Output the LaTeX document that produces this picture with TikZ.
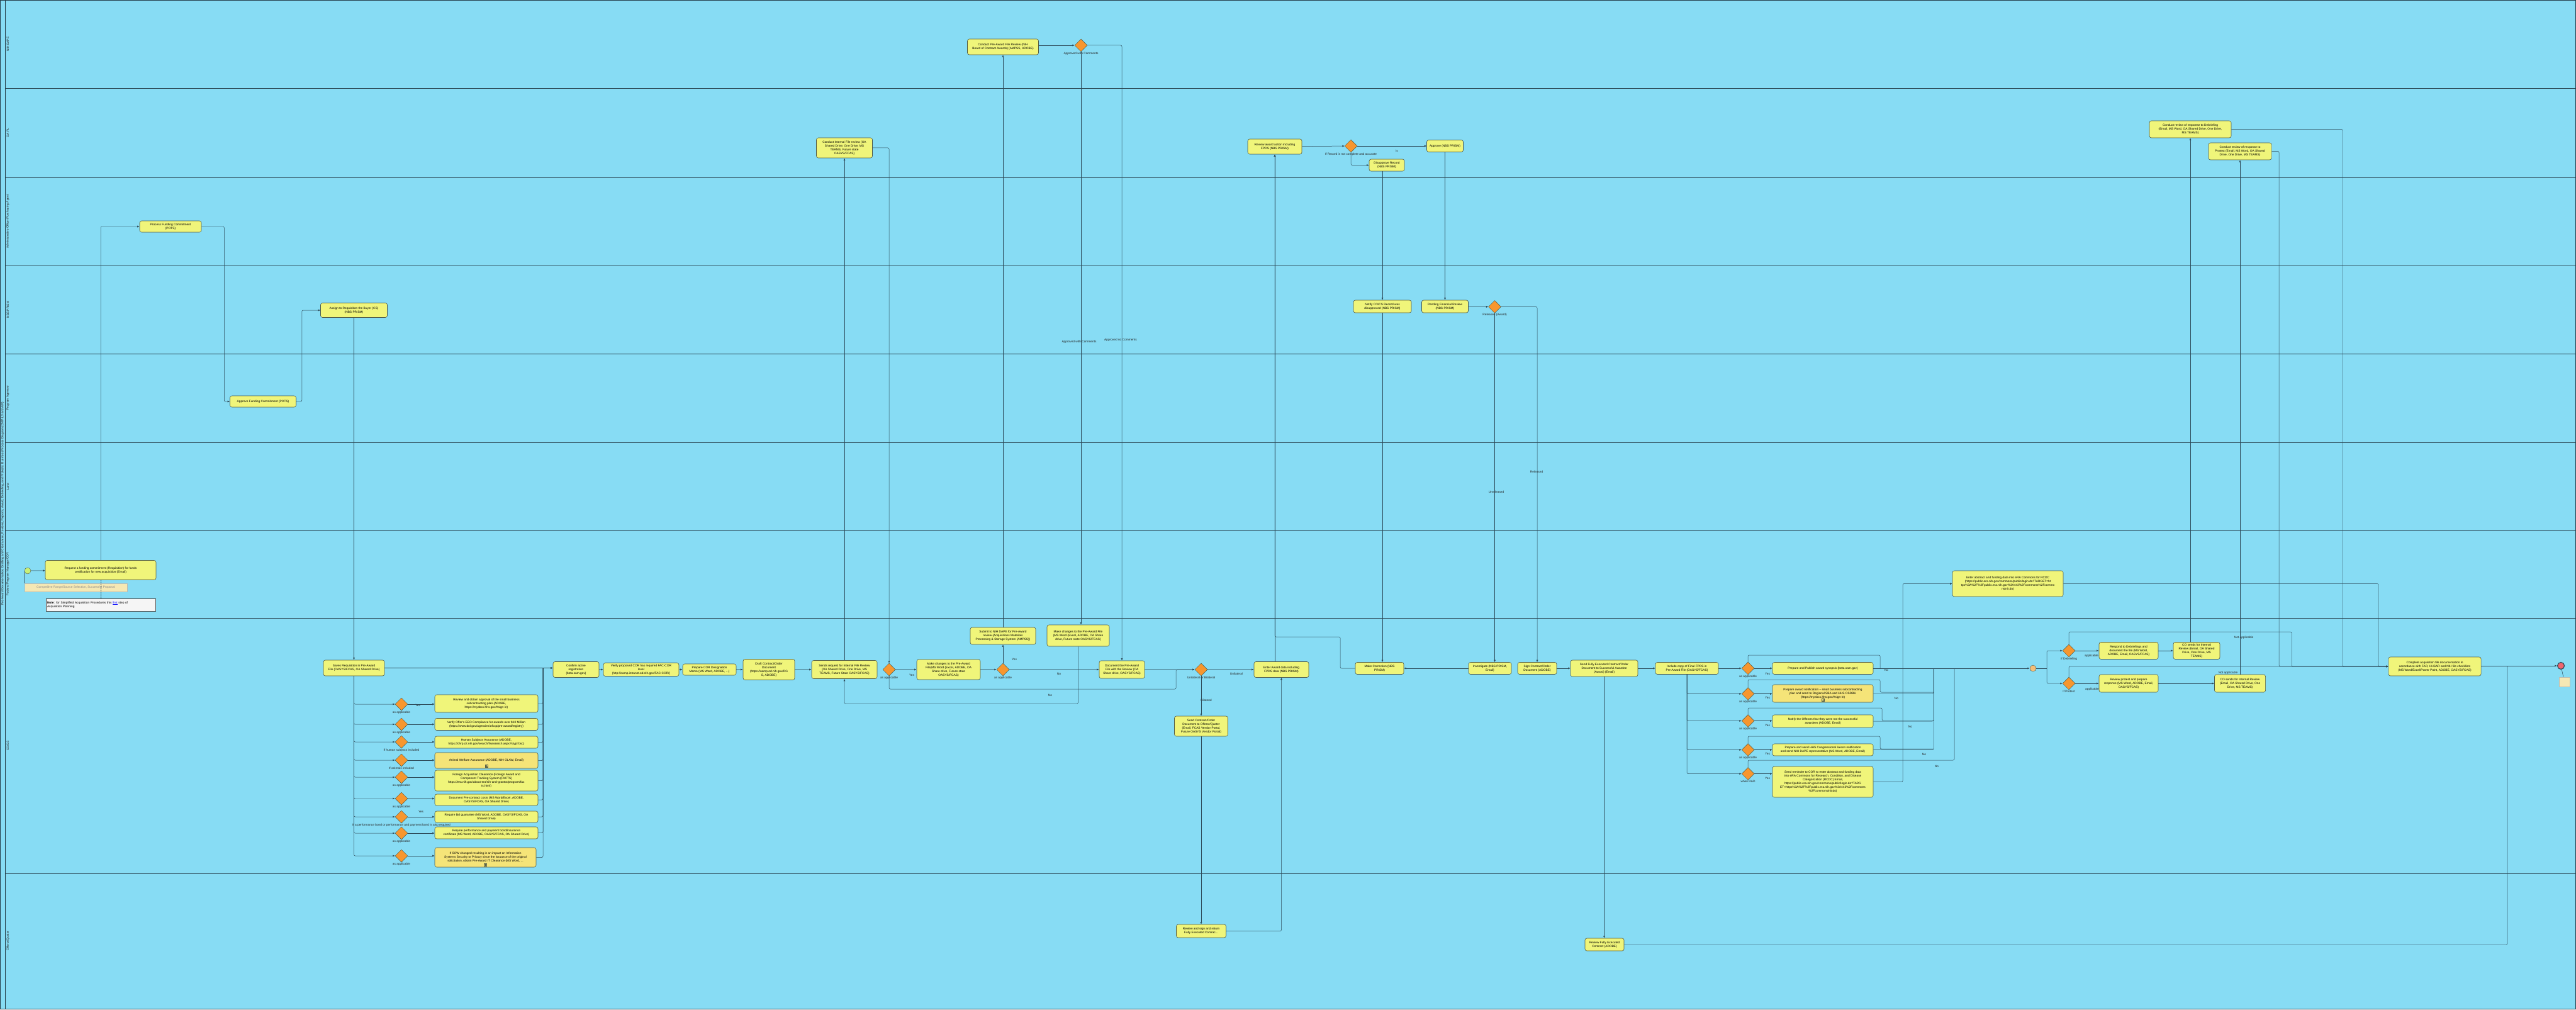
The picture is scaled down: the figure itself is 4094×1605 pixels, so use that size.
\documentclass[tikz,border=0pt]{standalone}
\usepackage{fontspec}
\setmainfont{Liberation Sans}
\usetikzlibrary{shapes.geometric,arrows.meta,positioning}

\definecolor{poolblue}{RGB}{135,220,244}
\definecolor{taskfill}{RGB}{240,245,122}
\definecolor{subfill}{RGB}{245,228,120}
\definecolor{taskline}{RGB}{80,90,70}
\definecolor{gatefill}{RGB}{247,150,46}
\definecolor{flowline}{RGB}{45,75,90}
\definecolor{datafill}{RGB}{245,232,180}
\definecolor{startfill}{RGB}{200,240,120}
\definecolor{endfill}{RGB}{240,100,110}
\definecolor{mergefill}{RGB}{245,190,120}
\newcommand{\diagfont}{\fontsize{4.8}{6}\selectfont}

\begin{document}
\begin{tikzpicture}[x=1pt,y=-1pt,>={Latex[length=3.5pt,width=3pt]},
  task/.style={rectangle,rounded corners=3pt,draw=taskline,fill=taskfill,line width=0.6pt,align=center,inner sep=1pt,font=\diagfont},
  subtask/.style={task,fill=subfill},
  gate/.style={diamond,draw=taskline,fill=gatefill,line width=0.5pt,minimum width=20pt,minimum height=20pt,inner sep=0pt},
  lbl/.style={font=\diagfont,inner sep=0.5pt,text=black!85},
  lane/.style={draw=flowline!80!black,line width=0.7pt},
  flow/.style={draw=flowline,line width=0.5pt,rounded corners=2pt}]
\useasboundingbox (0,0) rectangle (4094,1605);

% pool and lanes
\draw[lane,fill=poolblue] (0.5,0.5) rectangle (4093.5,1603);
\draw[lane] (8,0.5) -- (8,1603);
\draw[lane] (8,140) -- (4094,140) (8,282) -- (4094,282) (8,422) -- (4094,422) (8,562) -- (4094,562)
  (8,703) -- (4094,703) (8,843) -- (4094,843) (8,982) -- (4094,982) (8,1388) -- (4094,1388);
\node (Pool)[lbl,rotate=90] at (4.2,800){Pre-Award Documentation, Drafting and Clearances, Reviews, Reports, Award, Debriefing, and Protests: Business Process Diagram (CMP-L3 and A/R)};
\node (Ln1)[lbl,rotate=90] at (12.5,70){NIH DAPE};
\node (Ln2)[lbl,rotate=90] at (12.5,211){OA PL};
\node (Ln3)[lbl,rotate=90] at (12.5,352){Administrative Officer/Purchasing Agent};
\node (Ln4)[lbl,rotate=90] at (12.5,492){NBS PRISM};
\node (Ln5)[lbl,rotate=90] at (12.5,632){Program Approver};
\node (Ln6)[lbl,rotate=90] at (12.5,773){Lane};
\node (Ln7)[lbl,rotate=90] at (12.5,912){Federal Program Manager/COR};
\node (Ln8)[lbl,rotate=90] at (12.5,1185){CO/CS};
\node (Ln9)[lbl,rotate=90] at (12.5,1495){Offeror/Quoter};

% requisition and funding
\node (Start)[circle,draw=taskline,fill=startfill,minimum size=10pt,inner sep=0pt] at (44,907){};
\node (Req)[task,minimum width=176pt,minimum height=31pt] at (160,906){Request a funding commitment (Requisition) for funds\\certification for new acquisition (Email)};
\node (Src)[rectangle,draw=taskline!40,fill=datafill,minimum width=163pt,minimum height=13pt,inner sep=0pt,font=\diagfont,text=black!45] at (120.5,933.5){Competitive Range/Source Selection, Successful Proposal};
\node (Note)[rectangle,draw=black!70,fill=black!4,minimum width=174pt,minimum height=20pt,text width=170pt,align=left,inner sep=2pt,font=\diagfont] at (160,961){\textbf{Note}: for Simplified Acquisition Procedures this \textcolor{blue}{\underline{first}} step of\\Acquisition Planning};
\node (Fund)[task,minimum width=98pt,minimum height=18pt] at (271,360){Process Funding Commitment\\(POTS)};
\node (Appr)[task,minimum width=105pt,minimum height=18pt] at (418,638){Approve Funding Commitment (POTS)};
\node (Asgn)[task,minimum width=106pt,minimum height=23pt] at (562.5,493){Assign to Requisition the Buyer (CS)\\(NBS PRISM)};
\node (Save)[task,minimum width=97pt,minimum height=25pt] at (562.5,1061.5){Saves Requisition in Pre-Award\\File (OASYS/FCAS, OA Shared Drive)};

% pre-award checks
\node (D1)[gate] at (638,1119){};
\node (D2)[gate] at (638,1151){};
\node (D3)[gate] at (638,1179){};
\node (D4)[gate] at (638,1208){};
\node (D5)[gate] at (638,1235){};
\node (D6)[gate] at (638,1269){};
\node (D7)[gate] at (638,1298){};
\node (D8)[gate] at (638,1324){};
\node (D9)[gate] at (638,1360){};
\node (tD1)[lbl,below=0pt of D1]{as applicable};
\node (tD2)[lbl,below=0pt of D2]{as applicable};
\node (tD3)[lbl,below=0pt of D3]{If human subjects included};
\node (tD4)[lbl,below=0pt of D4]{If animals included};
\node (tD5)[lbl,below=0pt of D5]{as applicable};
\node (tD6)[lbl,below=0pt of D6]{as applicable};
\node (tD7)[lbl,below=0pt of D7]{If a performance bond or performance and payment bond is also required};
\node (tD8)[lbl,below=0pt of D8]{as applicable};
\node (tD9)[lbl,below=0pt of D9]{as applicable};
\node (yD1)[lbl] at (664,1121){Yes};
\node (yD7)[lbl] at (669,1290){Yes};

\node (C1)[task,minimum width=164pt,minimum height=28pt] at (773,1118){Review and obtain approval of the small business\\subcontracting plan (ADOBE,\\https://mysbcx.hhs.gov/\#sign-in)};
\node (C2)[task,minimum width=164pt,minimum height=19pt] at (773,1151){Verify Offer's EEO Compliance for awards over \$10 Million\\(https://www.dol.gov/agencies/ofccp/pre-award/registry)};
\node (C3)[task,minimum width=164pt,minimum height=19pt] at (773,1179.5){Human Subjects Assurance (ADOBE,\\https://ohrp.cit.nih.gov/search/fwasearch.aspx?styp=bsc)};
\node (C4)[subtask,minimum width=164pt,minimum height=25pt] at (773,1208.5){Animal Welfare Assurance (ADOBE, NIH OLAW, Email)};
\node (C5)[task,minimum width=164pt,minimum height=33pt] at (773,1240.5){Foreign Acquisition Clearance (Foreign Award and\\Component Tracking System (FACTS)\\https://era.nih.gov/about-era/nih-and-grantor/program/fac\\ts.html)};
\node (C6)[task,minimum width=164pt,minimum height=18pt] at (773,1271){Document Pre-contract costs (MS Word/Excel, ADOBE,\\OASYS/FCAS, OA Shared Drive)};
\node (C7)[task,minimum width=164pt,minimum height=18pt] at (773,1298){Require bid guarantee (MS Word, ADOBE, OASYS/FCAS, OA\\Shared Drive)};
\node (C8)[task,minimum width=164pt,minimum height=19pt] at (773,1323.5){Require performance and payment bond/insurance\\certificate (MS Word, ADOBE, OASYS/FCAS, OA Shared Drive)};
\node (C9)[subtask,minimum width=161pt,minimum height=31pt] at (771.5,1362.5){If SOW changed resulting in an impact on Information\\Systems Security or Privacy since the issuance of the original\\solicitation, obtain Pre-Award IT Clearance (MS Word, ...};
\draw[taskline,line width=0.4pt] (C4.south) ++(-2,-2) rectangle ++(4,-4) (C4.south) ++(0,-2.5) -- ++(0,-3) (C4.south) ++(-1.5,-4) -- ++(3,0);
\draw[taskline,line width=0.4pt] (C9.south) ++(-2,-2) rectangle ++(4,-4) (C9.south) ++(0,-2.5) -- ++(0,-3) (C9.south) ++(-1.5,-4) -- ++(3,0);
\coordinate (Bus) at (863,1061.5);

% contract preparation and reviews
\node (Conf)[task,minimum width=73pt,minimum height=25pt] at (915.5,1064){Confirm active\\registration\\(beta.sam.gov)};
\node (Vcor)[task,minimum width=120pt,minimum height=21pt] at (1019,1064){Verify proposed COR has required FAC-COR\\level\\(http://oamp.intranet.od.nih.gov/FAC-COR/)};
\node (Memo)[task,minimum width=85pt,minimum height=18pt] at (1127.5,1064){Prepare COR Designation\\Memo (MS Word, ADOBE, ...)};
\node (Draft)[task,minimum width=82pt,minimum height=33pt] at (1222,1064){Draft Contract/Order\\Document\\(https://oamp.od.nih.gov/DG\\S, ADOBE)};
\node (Sreq)[task,minimum width=104pt,minimum height=29pt] at (1342,1064){Sends request for Internal File Review\\(OA Shared Drive, One Drive, MS\\TEAMS, Future State OASYS/FCAS)};
\node (G1)[gate] at (1413,1064){};
\node (Chg1)[task,minimum width=101pt,minimum height=32pt] at (1507.5,1064){Make changes to the Pre-Award\\File(MS Word (Excel, ADOBE, OA\\Share drive, Future state\\OASYS/FCAS)};
\node (G2)[gate] at (1594,1064){};
\node (Sub)[task,minimum width=104pt,minimum height=27pt] at (1594,1010.5){Submit to NIH DAPE for Pre-Award\\review (Acquisitions Materials\\Processing \& Storage System (AMPSS))};
\node (Chg2)[task,minimum width=99pt,minimum height=34pt] at (1713.5,1010){Make changes to the Pre-Award File\\(MS Word (Excel, ADOBE, OA Share\\drive, Future state OASYS/FCAS)};
\node (Doc)[task,minimum width=72pt,minimum height=28pt] at (1783,1064){Document the Pre-Award\\File with the Review (OA\\Share drive, OASYS/FCAS)};
\node (G3)[gate] at (1909,1064){};
\node (Ent)[task,minimum width=87pt,minimum height=25pt] at (2036.5,1064){Enter Award data including\\FPDS data (NBS PRISM)};
\node (Send)[task,minimum width=85pt,minimum height=32pt] at (1909,1154){Send Contract/Order\\Document to Offeror/Quoter\\(Email, FCAS Vendor Portal,\\Future OASYS Vendor Portal)};
\node (Cint)[task,minimum width=89pt,minimum height=32pt] at (1342,235){Conduct Internal File review (OA\\Shared Drive, One Drive, MS\\TEAMS, Future state\\OASYS/FCAS)};
\node (Cpre)[task,minimum width=113pt,minimum height=25pt] at (1594,74.5){Conduct Pre-Award File Review (NIH\\Board of Contract Awards) (AMPSS, ADOBE)};
\node (GP)[gate] at (1718,72){};
\node (tG1)[lbl,below=0pt of G1]{as applicable};
\node (tG2)[lbl,below=0pt of G2]{as applicable};
\node (tG3)[lbl,below=0pt of G3]{Unilateral or Bilateral};
\node (tGP)[lbl,below=0pt of GP]{Approved with Comments};
\node (yG1)[lbl] at (1449,1073){Yes};
\node (yG2)[lbl] at (1612,1048){Yes};
\node (nG2)[lbl] at (1683,1071){No};
\node (nChg)[lbl] at (1669,1105){No};
\node (uG3)[lbl] at (1965,1071){Unilateral};
\node (bG3)[lbl] at (1917,1113){Bilateral};
\node (aGP)[lbl] at (1715,543){Approved with Comments};
\node (nGP)[lbl] at (1781,540){Approved no Comments};

% award data and release
\node (Rev)[task,minimum width=86pt,minimum height=24pt] at (2026,233){Review award action including\\FPDS (NBS PRISM)};
\node (GR)[gate] at (2147,232){};
\node (Apv)[task,minimum width=58pt,minimum height=19pt] at (2296.5,232){Approve (NBS PRISM)};
\node (Dis)[task,minimum width=56pt,minimum height=19pt] at (2204,262.5){Disapprove Record\\(NBS PRISM)};
\node (Ntf)[task,minimum width=92pt,minimum height=20pt] at (2197,487){Notify CO/CS Record was\\disapproved (NBS PRISM)};
\node (Pend)[task,minimum width=74pt,minimum height=20pt] at (2296.5,487){Pending Financial Review\\(NBS PRISM)};
\node (GRel)[gate] at (2375.5,487.5){};
\node (tGR)[lbl,below=0pt of GR]{If Record is not complete and accurate};
\node (iGR)[lbl] at (2220,240){is};
\node (tGRel)[lbl,below=0pt of GRel]{Released (Award)};
\node (uGRel)[lbl] at (2378,782){Unreleased};
\node (rGRel)[lbl] at (2442,750){Released};
\node (Corr)[task,minimum width=77pt,minimum height=19pt] at (2192.5,1062){Make Correction (NBS\\PRISM)};
\node (Inv)[task,minimum width=68pt,minimum height=19pt] at (2368,1062){Investigate (NBS PRISM,\\Email)};
\node (Sign)[task,minimum width=62pt,minimum height=19pt] at (2443,1062){Sign Contract/Order\\Document (ADOBE)};
\node (Full)[task,minimum width=107pt,minimum height=26pt] at (2549.5,1062){Send Fully Executed Contract/Order\\Document to Successful Awardee\\(Award) (Email)};
\node (Inc)[task,minimum width=100pt,minimum height=19pt] at (2681,1062){Include copy of Final FPDS in\\Pre-Award File (OASYS/FCAS)};
\node (Rsgn)[task,minimum width=79pt,minimum height=21pt] at (1909,1479.5){Review and sign and return\\Fully Executed Contrac...};
\node (Rful)[task,minimum width=62pt,minimum height=20pt] at (2550,1501){Review Fully Executed\\Contract (ADOBE)};

% post-award notices
\node (GA)[gate] at (2778,1062){};
\node (GB)[gate] at (2778,1102.5){};
\node (GC)[gate] at (2778,1145.5){};
\node (GD)[gate] at (2778,1191.5){};
\node (GE)[gate] at (2778,1229.5){};
\node (tGA)[lbl,below=0pt of GA]{as applicable};
\node (tGB)[lbl,below=0pt of GB]{as applicable};
\node (tGC)[lbl,below=0pt of GC]{as applicable};
\node (tGD)[lbl,below=0pt of GD]{as applicable};
\node (tGE)[lbl,below=0pt of GE]{when R\&D};
\node (yGA)[lbl] at (2809,1071){Yes};
\node (yGB)[lbl] at (2809,1109){Yes};
\node (yGC)[lbl] at (2809,1153){Yes};
\node (yGD)[lbl] at (2809,1198){Yes};
\node (yGE)[lbl] at (2809,1237){Yes};
\node (nGA)[lbl] at (2998,1065){No};
\node (nGB)[lbl] at (3014,1110){No};
\node (nGC)[lbl] at (3036,1155){No};
\node (nGD)[lbl] at (3058,1199){No};
\node (nGE)[lbl] at (3078,1218){No};
\node (BA)[task,minimum width=160pt,minimum height=19pt] at (2897,1062){Prepare and Publish award synopsis (beta.sam.gov)};
\node (BB)[subtask,minimum width=160pt,minimum height=28pt] at (2897,1102){Prepare award notification -- small business subcontracting\\plan and send to Regional SBA and HHS OSDBU\\(https://mysbcx.hhs.gov/\#sign-in)};
\node (BC)[task,minimum width=160pt,minimum height=20pt] at (2897,1146){Notify the Offerors that they were not the successful\\awardees (ADOBE, Email)};
\node (BD)[task,minimum width=160pt,minimum height=19pt] at (2897,1191.5){Prepare and send HHS Congressional liaison notification\\and send NIH DAPE representative (MS Word, ADOBE, Email)};
\node (BE)[task,minimum width=160pt,minimum height=49pt] at (2897,1242.5){Send reminder to COR to enter abstract and funding data\\into eRA Commons for Research, Condition, and Disease\\Categorization (RCDC) Email,\\https://public.era.nih.gov/commons/public/login.do?TARG\\ET=https\%3A\%2F\%2Fpublic.era.nih.gov\%3A443\%2Fcommons\\\%2Fcommonsinit.do)};
\draw[taskline,line width=0.4pt] (BB.south) ++(-2,-2) rectangle ++(4,-4) (BB.south) ++(0,-2.5) -- ++(0,-3) (BB.south) ++(-1.5,-4) -- ++(3,0);
\node (Era)[task,minimum width=176pt,minimum height=41pt] at (3191,927.5){Enter abstract and funding data into eRA Commons for RCDC\\(https://public.era.nih.gov/commons/public/login.do?TARGET=ht\\tps\%3A\%2F\%2Fpublic.era.nih.gov\%3A443\%2Fcommons\%2Fcommo\\nsinit.do)};

% debriefing and protest
\node (Mrg)[circle,draw=taskline,fill=mergefill,minimum size=10pt,inner sep=0pt] at (3231,1062){};
\coordinate (Spl) at (3253,1062);
\node (GDb)[gate] at (3288,1034){};
\node (GPr)[gate] at (3288,1086){};
\node (tGDb)[lbl,below=0pt of GDb]{If Debriefing};
\node (tGPr)[lbl,below=0pt of GPr]{If Protest};
\node (aGDb)[lbl] at (3324,1042){applicable};
\node (aGPr)[lbl] at (3325,1095){applicable};
\node (Resp)[task,minimum width=94pt,minimum height=27pt] at (3383,1034){Respond to Debriefings and\\document the file (MS Word,\\ADOBE, Email, OASYS/FCAS)};
\node (CoD)[task,minimum width=74pt,minimum height=27pt] at (3491,1034){CO sends for Internal\\Review (Email, OA Shared\\Drive, One Drive, MS\\TEAMS)};
\node (Rpro)[task,minimum width=94pt,minimum height=28pt] at (3383,1086){Review protest and prepare\\response (MS Word, ADOBE, Email,\\OASYS/FCAS)};
\node (CoP)[task,minimum width=81pt,minimum height=28pt] at (3560,1086){CO sends for Internal Review\\(Email, OA Shared Drive, One\\Drive, MS TEAMS)};
\node (CrD)[task,minimum width=130pt,minimum height=27pt] at (3481,205.5){Conduct review of response to Debriefing\\(Email, MS Word, OA Shared Drive, One Drive,\\MS TEAMS)};
\node (CrP)[task,minimum width=100pt,minimum height=27pt] at (3560,240.5){Conduct review of response to\\Protest (Email, MS Word, OA Shared\\Drive, One Drive, MS TEAMS)};
\node (naD)[lbl] at (3566,1013){Not applicable};
\node (naP)[lbl] at (3541,1069){Not applicable};
\node (Comp)[task,minimum width=147pt,minimum height=30pt] at (3869.5,1059){Complete acquisition file documentation in\\accordance with FAR, HHSAR and NIH file checklists\\(MS Word/Excel/Power Point, ADOBE, OASYS/FCAS)};
\node (End)[circle,draw=flowline,fill=endfill,line width=1.2pt,minimum size=11pt,inner sep=0pt] at (4070,1058){};
\node (EndData)[rectangle,draw=taskline!40,fill=datafill,minimum width=17pt,minimum height=15pt,inner sep=0pt] at (4075.5,1083.5){};

% connectors
\draw[flow,->] (Start) -- (Req);
\draw[flow] (Start.west) -- (Src.north west);
\draw[flow,densely dotted] (Req.south) -- (Note.north);
\draw[flow,->] (Req.north) |- (Fund.west);
\draw[flow,->] (Fund.east) -- ++(36,0) |- (Appr.west);
\draw[flow,->] (Appr.east) -- ++(9,0) |- (Asgn.west);
\draw[flow,->] (Asgn) -- (Save);
\draw[flow,->] (Save.east) -- (Save.east -| Conf.west);
\draw[flow,->] (Save.south) |- (D1.west);
\draw[flow,->] (Save.south) |- (D2.west);
\draw[flow,->] (Save.south) |- (D3.west);
\draw[flow,->] (Save.south) |- (D4.west);
\draw[flow,->] (Save.south) |- (D5.west);
\draw[flow,->] (Save.south) |- (D6.west);
\draw[flow,->] (Save.south) |- (D7.west);
\draw[flow,->] (Save.south) |- (D8.west);
\draw[flow,->] (Save.south) |- (D9.west);
\draw[flow,->] (D1.east) -- (D1.east -| C1.west);
\draw[flow,->] (D2.east) -- (D2.east -| C2.west);
\draw[flow,->] (D3.east) -- (D3.east -| C3.west);
\draw[flow,->] (D4.east) -- (D4.east -| C4.west);
\draw[flow,->] (D5.east) -- (D5.east -| C5.west);
\draw[flow,->] (D6.east) -- (D6.east -| C6.west);
\draw[flow,->] (D7.east) -- (D7.east -| C7.west);
\draw[flow,->] (D8.east) -- (D8.east -| C8.west);
\draw[flow,->] (D9.east) -- (D9.east -| C9.west);
\draw[flow] (C1.east) -| (Bus);
\draw[flow] (C2.east) -| (Bus);
\draw[flow] (C3.east) -| (Bus);
\draw[flow] (C4.east) -| (Bus);
\draw[flow] (C5.east) -| (Bus);
\draw[flow] (C6.east) -| (Bus);
\draw[flow] (C7.east) -| (Bus);
\draw[flow] (C8.east) -| (Bus);
\draw[flow,->] (C9.east) -| (Bus) -- (Bus -| Conf.west);
\draw[flow,->] (Conf) -- (Vcor);
\draw[flow,->] (Vcor) -- (Memo);
\draw[flow,->] (Memo) -- (Draft);
\draw[flow,->] (Draft) -- (Sreq);
\draw[flow,->] (Sreq) -- (Cint);
\draw[flow,->] (Cint.east) -| (G1.north);
\draw[flow,->] (G1) -- (Chg1);
\draw[flow,->] (G1.south) |- (1869,1095) |- (G3.west);
\draw[flow,->] (Chg1) -- (G2);
\draw[flow,->] (G2) -- (Sub);
\draw[flow,->] (G2) -- (Doc);
\draw[flow,->] (Sub) -- (Cpre);
\draw[flow,->] (Cpre.east |- GP.west) -- (GP.west);
\draw[flow,->] (GP.south) -- (GP.south |- Chg2.north);
\draw[flow,->] (GP.east) -| (Doc.north);
\draw[flow,->] (Chg2.south) |- (1342,1118) -- (Sreq.south);
\draw[flow,->] (Doc) -- (G3);
\draw[flow,->] (G3) -- (Ent);
\draw[flow,->] (G3) -- (Send);
\draw[flow,->] (Send) -- (Rsgn);
\draw[flow,->] (Rsgn.east) -| (Ent.south);
\draw[flow,->] (Rev.south |- Ent.north) -- (Rev.south);
\draw[flow,->] (Corr.west) -| (2130,1012) -| (Rev.south);
\draw[flow,->] (Rev) -- (GR);
\draw[flow,->] (GR) -- (Apv);
\draw[flow,->] (GR.south) |- (Dis.west);
\draw[flow,->] (Ntf.north |- Dis.south) -- (Ntf.north);
\draw[flow,->] (Apv) -- (Pend);
\draw[flow,->] (Pend) -- (GRel);
\draw[flow,->] (Ntf.south) -- (Ntf.south |- Corr.north);
\draw[flow,->] (GRel.south) -- (GRel.south |- Inv.north);
\draw[flow,->] (GRel.east) -| (Sign.north);
\draw[flow,->] (Inv) -- (Corr);
\draw[flow,->] (Sign) -- (Full);
\draw[flow,->] (Full.south) -- (Full.south |- Rful.north);
\draw[flow,->] (Full) -- (Inc);
\draw[flow,->] (Inc) -- (GA);
\draw[flow,->] (Inc.south) |- (GB.west);
\draw[flow,->] (Inc.south) |- (GC.west);
\draw[flow,->] (Inc.south) |- (GD.west);
\draw[flow,->] (Inc.south) |- (GE.west);
\draw[flow,->] (GA) -- (BA);
\draw[flow,->] (GB.east) -- (GB.east -| BB.west);
\draw[flow,->] (GC.east) -- (GC.east -| BC.west);
\draw[flow,->] (GD) -- (BD);
\draw[flow,->] (GE.east) -- (GE.east -| BE.west);
\draw[flow] (GA.north) |- (2988,1041) -- (2988,1062);
\draw[flow] (GB.north) |- (2988,1080) |- (3073,1100);
\draw[flow] (GC.north) |- (2991,1125) |- (3073,1145);
\draw[flow] (GD.north) |- (2988,1170) |- (3073,1190);
\draw[flow] (GE.north) |- (3106,1208) -- (3106,1062);
\draw[flow,->,line width=1pt] (BA) -- (Mrg);
\draw[flow] (BB.east) -| (3073,1062);
\draw[flow] (BC.east) -| (3073,1062);
\draw[flow] (BD.east) -| (3073,1062);
\draw[flow,->] (BE.east) -| (3024,927.5) -- (Era.west);
\draw[flow,->] (Era.east) -| (3780,1059) -- (Comp.west);
\draw[flow] (Mrg) -- (Spl);
\draw[flow,->] (Spl) |- (GDb.west);
\draw[flow,->] (Spl) |- (GPr.west);
\draw[flow,->] (GDb) -- (Resp);
\draw[flow,->] (Resp) -- (CoD);
\draw[flow,->] (GPr) -- (Rpro);
\draw[flow,->] (Rpro) -- (CoP);
\draw[flow,->] (CoD.north -| CrD.south) -- (CrD.south);
\draw[flow,->] (CoP) -- (CrP);
\draw[flow,->] (CrD.east) -| (3723,1059) -- (Comp.west);
\draw[flow,->] (CrP.east) -| (3622,1059) -- (Comp.west);
\draw[flow,->] (GDb.north) |- (3642,1004) -- (3642,1059) -- (Comp.west);
\draw[flow,->] (GPr.north) |- (Comp.west);
\draw[flow,->,line width=0.8pt] (Comp.east |- End.west) -- (End.west);
\draw[flow] (Rful.east) -| (3985,1058);
\draw[flow] (End) -- (EndData);
\end{tikzpicture}
\end{document}
